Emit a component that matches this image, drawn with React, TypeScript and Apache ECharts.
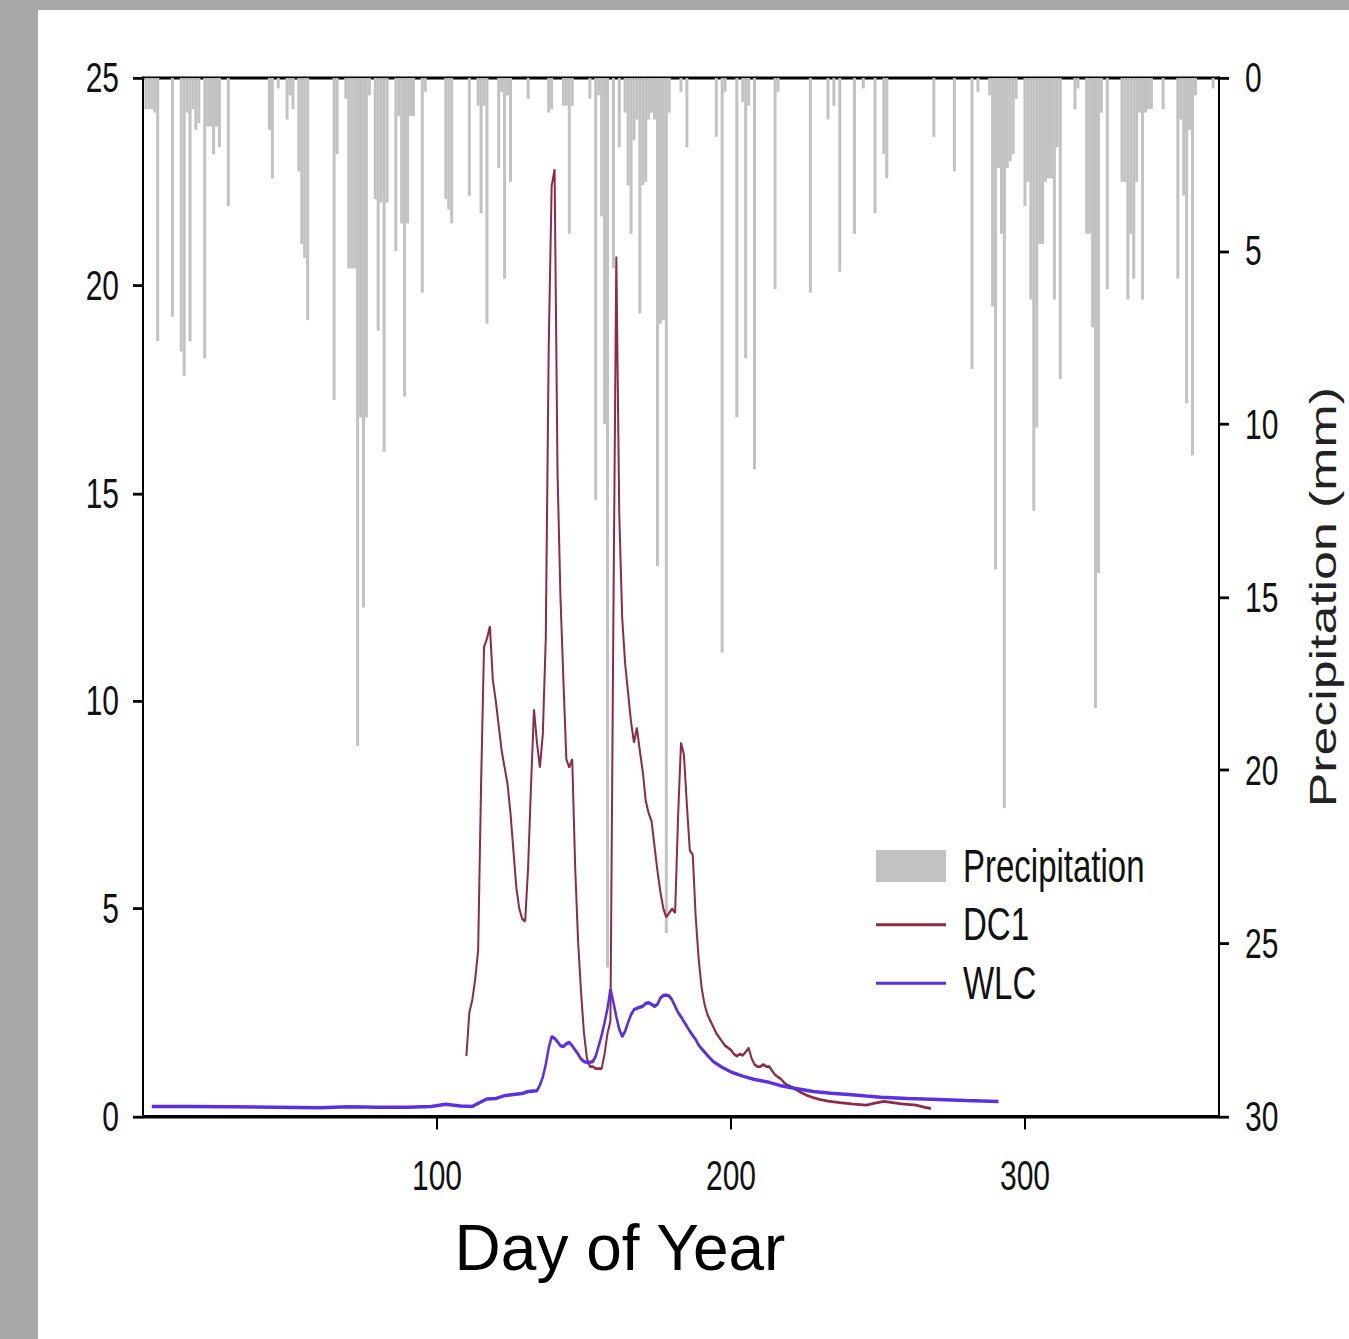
import React, { useEffect, useRef } from "react";
import * as echarts from "echarts";

// The reference figure is vertically stretched; we draw at 1/K height and stretch with CSS.
const K = 1.4;
const W = 1349;
const H = 1339;
const HP = H / K;

const xTickValues = [100, 200, 300];

// [day of year, precipitation mm]
const precipitation: [number, number][] = [
  [1, 0.9], [2, 0.9], [3, 0.9], [4, 1.0], [5, 7.6], [10, 6.9], [13, 7.9], [14, 8.6], [15, 1.0], [16, 7.6],
  [17, 0.9], [18, 1.5], [19, 1.3], [21, 8.1], [22, 1.4], [23, 1.4], [24, 2.2], [25, 1.4], [26, 2.0], [29, 3.7],
  [43, 1.5], [44, 2.9], [46, 0.3], [49, 1.2], [50, 0.5], [51, 0.9], [53, 2.7], [54, 4.8], [55, 5.2], [56, 7.0],
  [65, 9.3], [66, 2.2], [69, 0.6], [70, 5.5], [71, 5.5], [72, 5.5], [73, 19.3], [74, 9.8], [75, 15.3], [76, 9.8], [77, 0.5],
  [79, 3.5], [80, 7.3], [81, 3.6], [82, 10.8], [83, 3.6], [86, 5.0], [87, 1.1], [88, 4.2], [89, 9.2], [90, 4.2],
  [91, 1.1], [92, 1.1], [95, 6.2], [96, 0.4],
  [103, 3.5], [104, 3.8], [105, 4.2], [111, 3.4], [114, 0.8], [115, 3.9], [116, 0.8], [117, 7.1], [121, 2.6], [122, 0.4],
  [123, 5.8], [124, 0.5], [125, 3.0], [131, 0.6], [138, 1.0], [139, 0.9], [143, 0.8], [144, 0.8], [145, 4.5], [146, 0.8],
  [152, 0.6], [154, 12.2], [155, 0.5], [156, 4.0], [157, 10.0], [158, 25.7], [160, 5.5], [162, 2.0],
  [164, 1.0], [165, 3.1], [166, 4.5], [167, 1.8], [168, 1.2], [169, 6.8], [170, 3.1], [171, 3.0], [172, 1.2], [173, 1.0],
  [174, 1.2], [175, 14.1], [176, 7.1], [177, 7.0], [178, 24.7], [179, 1.0], [183, 0.4], [185, 2.0], [195, 1.7], [197, 16.6],
  [198, 0.4], [202, 9.8], [204, 0.7], [205, 8.1], [206, 0.8], [208, 11.3], [215, 6.1], [216, 0.4], [227, 6.2], [233, 1.2],
  [235, 0.8], [237, 5.6], [242, 4.5], [245, 0.3], [249, 3.9], [252, 2.2], [253, 2.9], [269, 1.7], [276, 2.7], [282, 8.4],
  [284, 0.4], [288, 0.5], [289, 6.6], [290, 14.2],
  [291, 2.6], [292, 4.5], [293, 21.1], [294, 2.6], [295, 2.4], [296, 2.2], [297, 0.6], [300, 3.7], [301, 3.0], [302, 6.4],
  [303, 12.5], [304, 10.1], [305, 4.8], [306, 4.8], [307, 3.0], [308, 2.9], [309, 2.9], [310, 6.4], [311, 2.0], [312, 8.7],
  [317, 0.9], [318, 0.3],
  [321, 4.5], [322, 4.5], [323, 7.2], [324, 18.2], [325, 14.3], [326, 1.0], [328, 6.1], [333, 3.0], [334, 3.0], [335, 6.4],
  [336, 4.5], [337, 5.8], [338, 3.0], [339, 1.0], [340, 6.4], [341, 1.0], [342, 0.9], [343, 0.9], [347, 0.9], [352, 5.8],
  [353, 1.2], [354, 3.4], [355, 9.4], [356, 1.5], [357, 10.9], [358, 0.5], [364, 0.3],
];

const dc1: [number, number][] = [
  [110, 1.45], [111, 2.5], [112, 2.8], [113, 3.3], [114, 4.0], [115, 8.0], [116, 11.3], [117, 11.5], [118, 11.8], [119, 10.5],
  [120, 10.0], [121, 9.4], [122, 8.8], [123, 8.4], [124, 8.0], [125, 7.3], [126, 6.4], [127, 5.5], [128, 5.0], [129, 4.75],
  [130, 4.7], [131, 6.0], [132, 8.0], [133, 9.8], [134, 9.0], [135, 8.4], [136, 9.2], [137, 11.5], [138, 18.5], [139, 22.4],
  [140, 22.8], [141, 15.5], [142, 12.5], [143, 10.5], [144, 8.6], [145, 8.4], [146, 8.6], [147, 6.0], [148, 4.2], [149, 3.0],
  [150, 2.0], [151, 1.4], [152, 1.2], [153, 1.2], [154, 1.15], [155, 1.15], [156, 1.15], [157, 1.5], [158, 2.0], [159, 2.3],
  [160, 12.0], [161, 20.7], [162, 14.5], [163, 12.0], [164, 10.9], [165, 10.2], [166, 9.5], [167, 9.0], [168, 9.36], [169, 8.8],
  [170, 8.3], [171, 7.6], [172, 7.3], [173, 7.1], [174, 6.5], [175, 5.9], [176, 5.4], [177, 5.0], [178, 4.8], [179, 4.9],
  [180, 5.0], [181, 4.9], [182, 7.2], [183, 9.0], [184, 8.7], [185, 7.5], [186, 6.4], [187, 6.3], [188, 4.8], [189, 3.8],
  [190, 3.1], [191, 2.7], [192, 2.45], [193, 2.3], [194, 2.15], [195, 2.0], [196, 1.9], [197, 1.8], [198, 1.7], [199, 1.65],
  [200, 1.6], [201, 1.5], [202, 1.45], [203, 1.5], [204, 1.47], [205, 1.55], [206, 1.65], [207, 1.4], [208, 1.25], [209, 1.2],
  [210, 1.2], [211, 1.25], [212, 1.2], [213, 1.2], [214, 1.1], [215, 1.0], [216, 0.95], [217, 0.9], [218, 0.82], [219, 0.76],
  [220, 0.73], [222, 0.65], [224, 0.57], [226, 0.5], [228, 0.45], [230, 0.41], [233, 0.37], [237, 0.33], [241, 0.3], [246, 0.27],
  [249, 0.32], [252, 0.36], [255, 0.33], [258, 0.3], [260, 0.29], [263, 0.27], [266, 0.22], [268, 0.19],
];

const wlc: [number, number][] = [
  [3, 0.24], [15, 0.24], [30, 0.23], [45, 0.22], [60, 0.21], [70, 0.23], [80, 0.22], [90, 0.22], [98, 0.24], [103, 0.29],
  [108, 0.25], [112, 0.24], [115, 0.35], [117, 0.42], [120, 0.43], [123, 0.5], [126, 0.53], [129, 0.55], [131, 0.6], [134, 0.62],
  [135, 0.75], [136, 0.95], [137, 1.25], [138, 1.65], [139, 1.92], [140, 1.88], [141, 1.8], [142, 1.7], [143, 1.68], [144, 1.75],
  [145, 1.78], [146, 1.7], [147, 1.6], [148, 1.5], [149, 1.38], [150, 1.32], [151, 1.3], [152, 1.3], [153, 1.32], [154, 1.45],
  [155, 1.7], [156, 1.95], [157, 2.26], [158, 2.6], [159, 3.06], [160, 2.75], [161, 2.4], [162, 2.1], [163, 1.92], [164, 2.05],
  [165, 2.26], [166, 2.45], [167, 2.57], [168, 2.6], [169, 2.63], [170, 2.65], [171, 2.72], [172, 2.74], [173, 2.7], [174, 2.65],
  [175, 2.7], [176, 2.85], [177, 2.91], [178, 2.92], [179, 2.9], [180, 2.8], [181, 2.65], [182, 2.5], [183, 2.4], [184, 2.28],
  [185, 2.17], [186, 2.05], [187, 1.95], [188, 1.85], [189, 1.72], [190, 1.63], [192, 1.47], [194, 1.32], [197, 1.18], [200, 1.07],
  [204, 0.97], [208, 0.89], [213, 0.82], [217, 0.74], [222, 0.67], [228, 0.6], [234, 0.56], [240, 0.53], [246, 0.49], [251, 0.46],
  [260, 0.43], [268, 0.41], [280, 0.38], [291, 0.36],
];

const FONT = "'Liberation Sans', Arial, sans-serif";
const DC1_COLOR = "#8c2a48";
const WLC_COLOR = "#5b30e0";
const PRECIP_COLOR = "#c2c2c2";

export default function App() {
  const ref = useRef<HTMLDivElement>(null);
  useEffect(() => {
    if (!ref.current) return;
    const chart = echarts.init(ref.current, null, { renderer: "svg" });
    const axisLine = { show: true, lineStyle: { color: "#000", width: 2 } };
    const legendText = { fontSize: 33, color: "#111", fontFamily: FONT, padding: [0, 0, 0, 12] };
    chart.setOption({
      animation: false,
      textStyle: { fontFamily: FONT },
      grid: {
        left: 143,
        right: W - 1219,
        top: 78 / K,
        bottom: HP - 1117 / K,
        outerBoundsMode: "none",
        containLabel: false,
        show: true,
        borderColor: "#000",
        borderWidth: 2,
        backgroundColor: "transparent",
      },
      legend: [
        {
          orient: "vertical",
          left: 876,
          top: 843 / K,
          padding: 0,
          itemWidth: 70,
          itemHeight: 32 / K,
          itemGap: 8,
          textStyle: legendText,
          data: [{ name: "Precipitation", icon: "rect" }],
        },
        {
          orient: "vertical",
          left: 876,
          top: 924.5 / K - 16.4,
          padding: 0,
          itemWidth: 70,
          itemHeight: 3 / K,
          itemGap: 8.8,
          icon: "rect",
          textStyle: legendText,
          data: [{ name: "DC1", icon: "rect" }, { name: "WLC", icon: "rect" }],
        },
      ],
      xAxis: {
        type: "value",
        min: 0,
        max: 366,
        interval: 100,
        axisLine,
        axisTick: { show: true, customValues: xTickValues, length: 13 / K, lineStyle: { color: "#000", width: 2 } },
        axisLabel: { customValues: xTickValues, fontSize: 30, color: "#111", margin: 27, fontFamily: FONT },
        splitLine: { show: false },
      },
      yAxis: [
        {
          type: "value",
          position: "left",
          min: 0,
          max: 25,
          interval: 5,
          axisLine,
          axisTick: { show: true, length: 10, lineStyle: { color: "#000", width: 2 } },
          axisLabel: { fontSize: 30, color: "#111", margin: 24, fontFamily: FONT },
          splitLine: { show: false },
        },
        {
          type: "value",
          position: "right",
          min: 0,
          max: 30,
          interval: 5,
          inverse: true,
          name: "Precipitation (mm)",
          nameLocation: "middle",
          nameRotate: 90,
          nameGap: 86,
          nameTextStyle: { fontSize: 37, color: "#222", fontFamily: FONT },
          axisLine,
          axisTick: { show: true, length: 10, lineStyle: { color: "#000", width: 2 } },
          axisLabel: { fontSize: 30, color: "#111", margin: 26, fontFamily: FONT },
          splitLine: { show: false },
        },
      ],
      graphic: [
        {
          type: "text",
          x: 620,
          y: 1248 / K,
          scaleY: 1 / K,
          style: {
            text: "Day of Year",
            fontSize: 64,
            fontFamily: FONT,
            fill: "#000",
            textAlign: "center",
            textVerticalAlign: "middle",
          },
        },
      ],
      series: [
        {
          type: "bar",
          name: "Precipitation",
          yAxisIndex: 1,
          data: precipitation,
          barWidth: 3,
          itemStyle: { color: PRECIP_COLOR },
          z: 1,
        },
        {
          type: "line",
          name: "DC1",
          yAxisIndex: 0,
          data: dc1,
          symbol: "none",
          lineStyle: { color: DC1_COLOR, width: 2 },
          itemStyle: { color: DC1_COLOR },
          z: 3,
        },
        {
          type: "line",
          name: "WLC",
          yAxisIndex: 0,
          data: wlc,
          symbol: "none",
          lineStyle: { color: WLC_COLOR, width: 2.5 },
          itemStyle: { color: WLC_COLOR },
          z: 4,
        },
      ],
    });
    return () => chart.dispose();
  }, []);
  return (
    <div style={{ position: "fixed", left: 0, top: 0, width: W, height: H, background: "#a8a8a8", overflow: "hidden" }}>
      <div style={{ position: "absolute", left: 38, top: 10, right: 0, bottom: 0, background: "#ffffff" }} />
      <div
        ref={ref}
        style={{
          position: "absolute",
          left: 0,
          top: 0,
          width: W,
          height: HP,
          transform: `scaleY(${K})`,
          transformOrigin: "0 0",
        }}
      />
    </div>
  );
}
